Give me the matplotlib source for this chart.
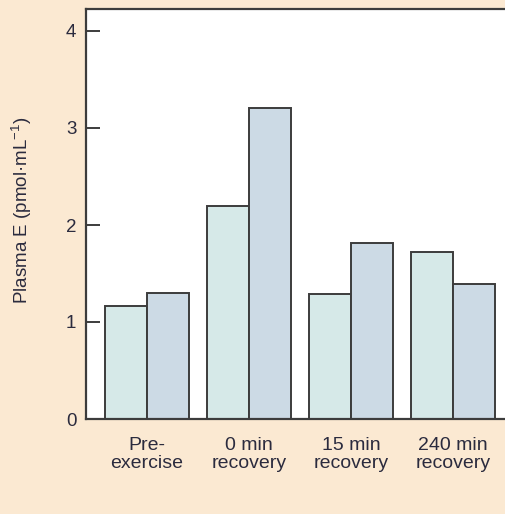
import numpy as np
import matplotlib
matplotlib.use("Agg")
import matplotlib.pyplot as plt

plt.rcParams["font.family"] = ["Liberation Sans", "DejaVu Sans"]
plt.rcParams["mathtext.fontset"] = "custom"
plt.rcParams["mathtext.rm"] = "Liberation Sans"
plt.rcParams["mathtext.it"] = "Liberation Sans"

categories = ["Pre-\nexercise", "0 min\nrecovery", "15 min\nrecovery", "240 min\nrecovery"]
series_a = [1.16, 2.20, 1.29, 1.72]
series_b = [1.30, 3.21, 1.81, 1.39]
y_ticks = [0, 1, 2, 3, 4]

bg = "#FBE9D2"
edge = "#3C3C3C"
txt = "#2B2B3E"

fig = plt.figure(figsize=(5.05, 5.14), dpi=100, facecolor=bg)
ax = fig.add_axes([86 / 505, 1 - 419 / 514, (520 - 86) / 505, (419 - 9) / 514])
ax.set_facecolor("white")

x = np.arange(len(categories))
w = 0.41
ax.bar(x - w / 2, series_a, w, color="#D6E9E8", edgecolor=edge, linewidth=1.4)
ax.bar(x + w / 2, series_b, w, color="#CCDAE5", edgecolor=edge, linewidth=1.4)

ax.set_xlim(-0.598, (520 - 147) / 102)
ax.set_ylim(0, 410 / 97)
ax.set_yticks(y_ticks)
ax.set_xticks(x)
ax.set_xticklabels(categories, fontsize=14, color=txt, linespacing=1.05)
ax.tick_params(axis="x", length=0, pad=13)
ax.tick_params(axis="y", direction="in", length=10, width=1.4, color=edge,
               labelsize=13.5, labelcolor=txt, pad=7)

for side in ["left", "top", "bottom", "right"]:
    ax.spines[side].set_color(edge)
    ax.spines[side].set_linewidth(1.6)

# y label placed in figure pixels so it sits clear of the left edge
fig.text(22 / 505, 1 - 210 / 514, "Plasma E (pmol·mL$^{-1}$)", fontsize=13.5,
         color=txt, rotation=90, ha="center", va="center")

fig.savefig("out.png", dpi=100, facecolor=bg)
